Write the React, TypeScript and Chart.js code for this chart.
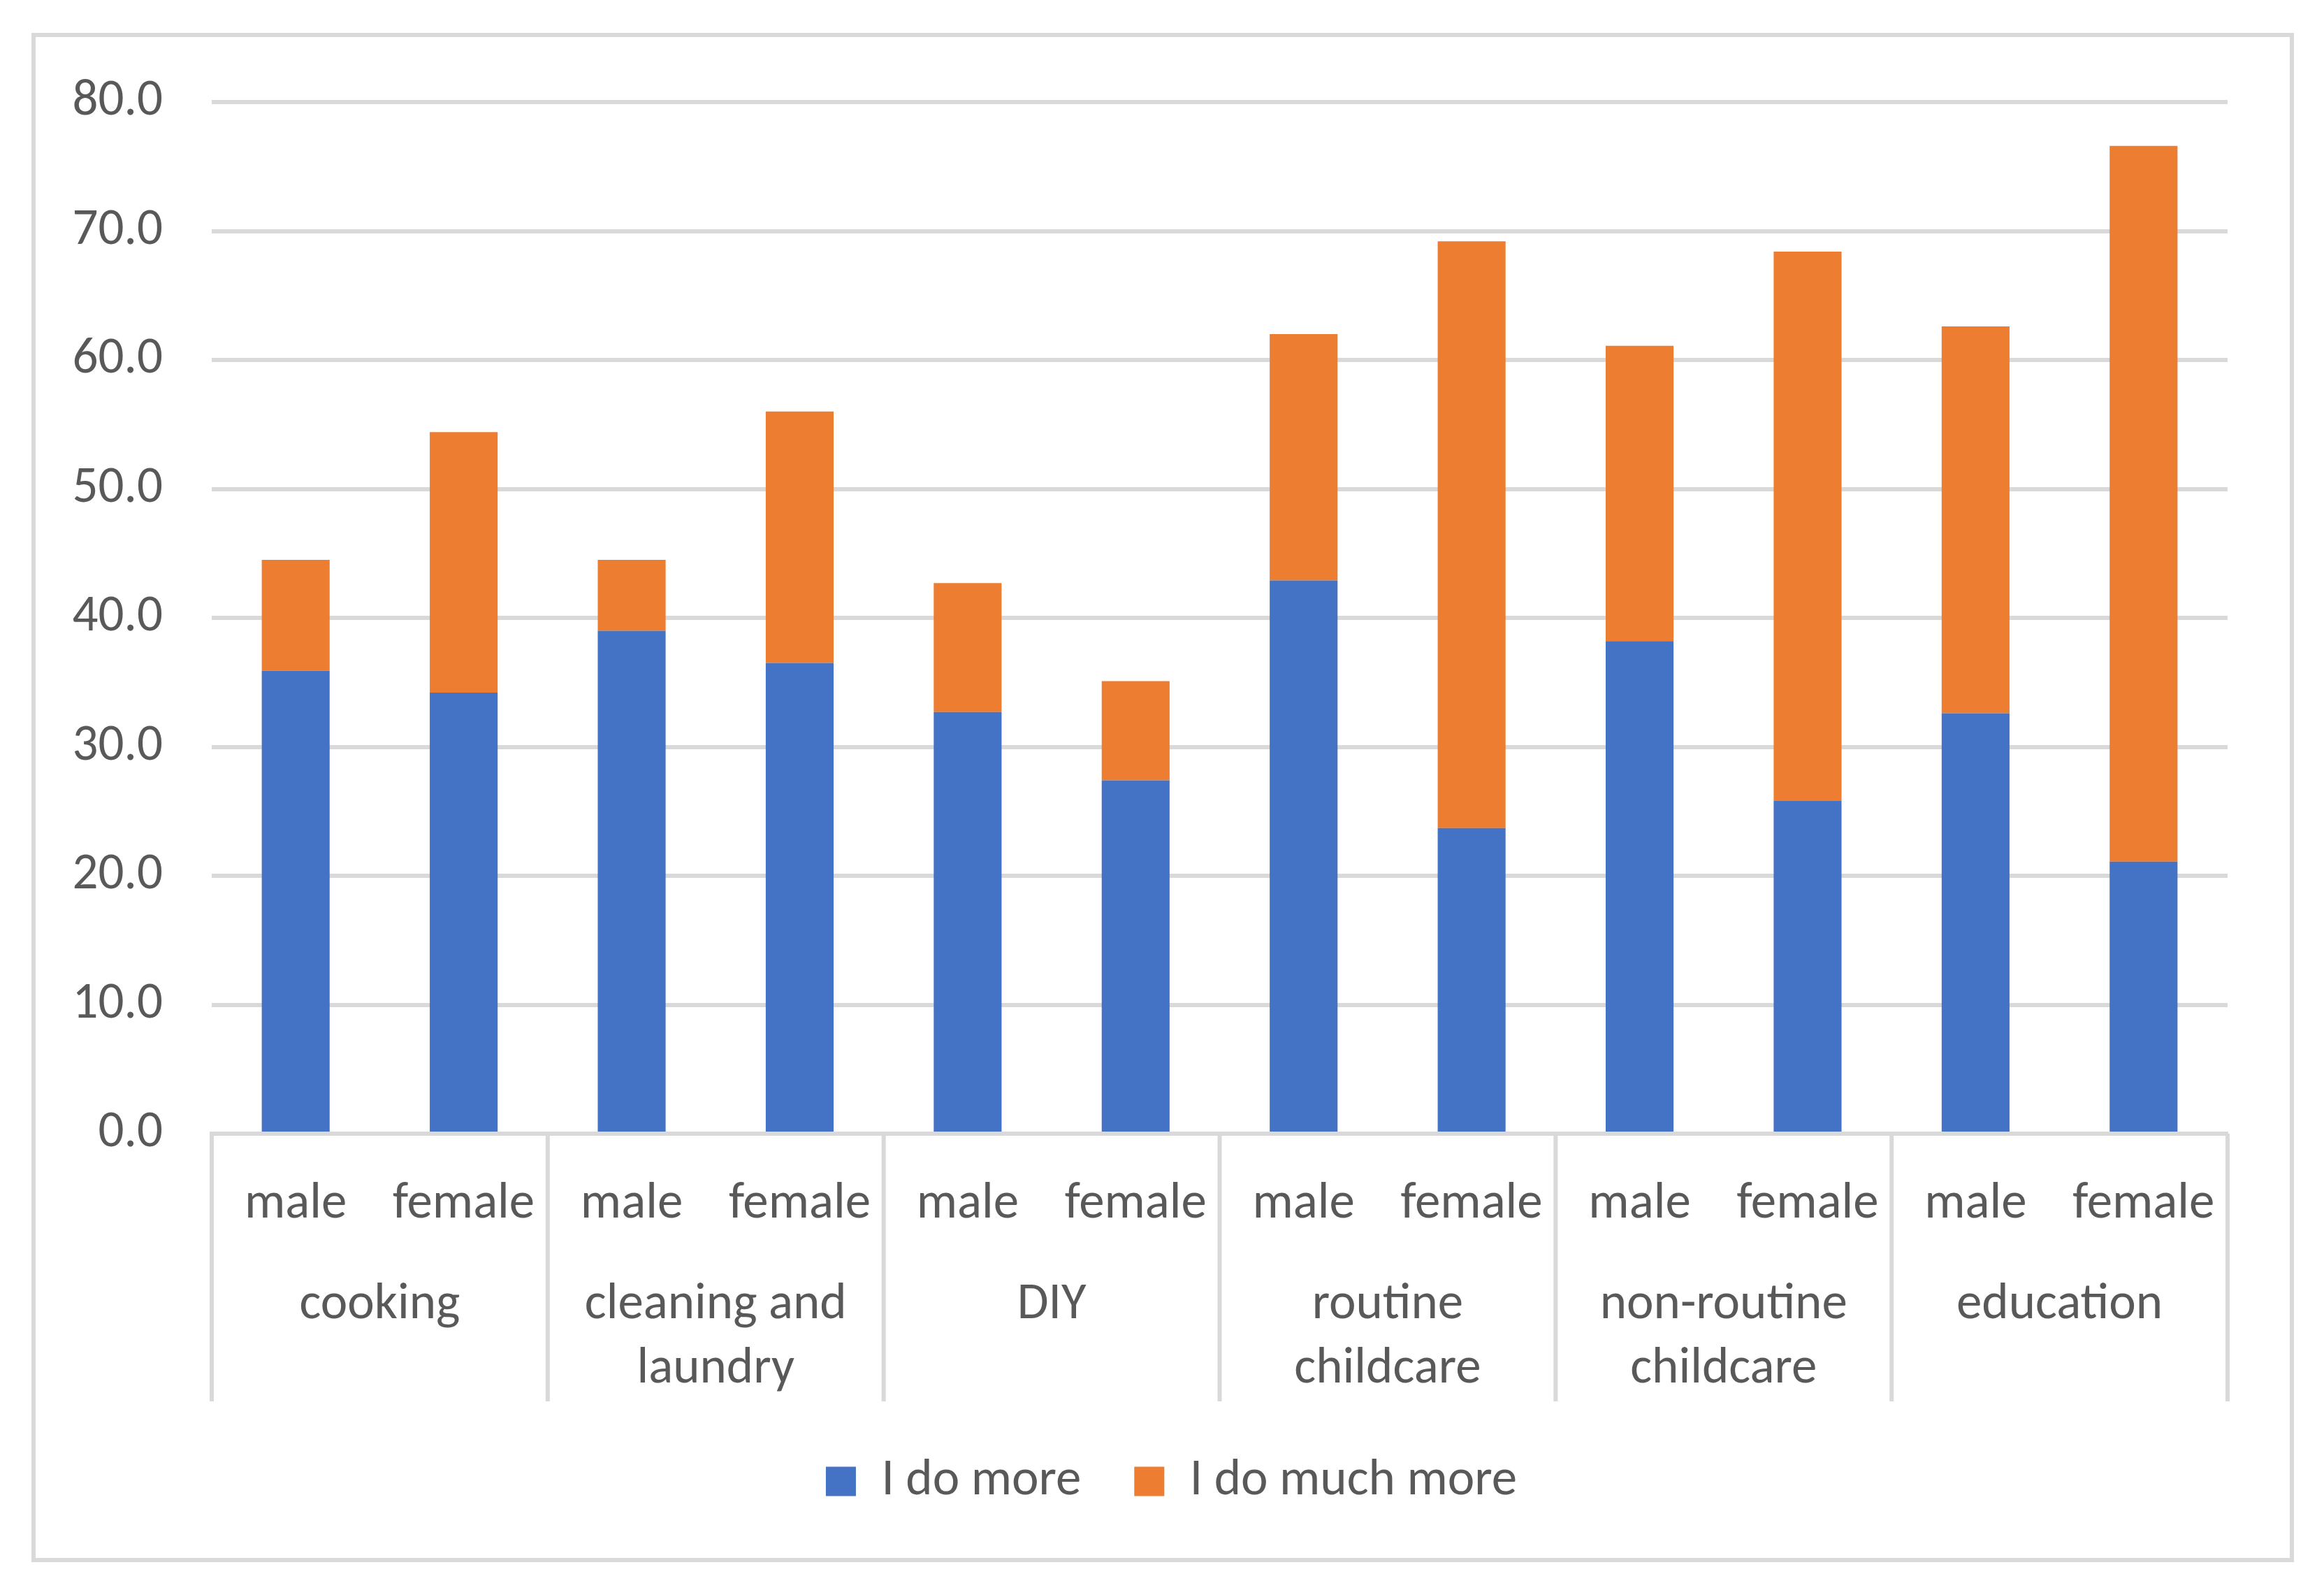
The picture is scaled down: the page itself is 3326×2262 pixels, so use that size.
import React, { useEffect, useRef } from "react";
import { Chart, registerables } from "chart.js";

Chart.register(...registerables);

const subLabels = ["male", "female", "male", "female", "male", "female", "male", "female", "male", "female", "male", "female"];
const groupLabels = [["cooking"], ["cleaning and", "laundry"], ["DIY"], ["routine", "childcare"], ["non-routine", "childcare"], ["education"]];
const doMore = [35.9, 34.2, 39.0, 36.5, 32.7, 27.4, 42.9, 23.7, 38.2, 25.8, 32.6, 21.1];
const doMuchMore = [8.6, 20.2, 5.5, 19.5, 10.0, 7.7, 19.1, 45.5, 22.9, 42.6, 30.0, 55.5];
const seriesNames = ["I do more", "I do much more"];
const yTicks = { min: 0, max: 80, step: 10 };

const FONT = "Carlito, Calibri, Lato, 'Noto Sans', sans-serif";
const TEXT = "#595959";
const GRID = "#D9D9D9";

const separatorPlugin = {
  id: "groupSeparators",
  afterLayout(chart: any) {
    const lg = chart.legend;
    if (lg) {
      lg.left += 57;
      lg.right += 57;
    }
  },
  afterDraw(chart: any) {
    const x2 = chart.scales.x2;
    const area = chart.chartArea;
    if (!x2) return;
    const w = x2.getPixelForValue(1) - x2.getPixelForValue(0);
    const start = x2.getPixelForValue(0) - w / 2;
    const ctx = chart.ctx;
    ctx.save();
    ctx.strokeStyle = GRID;
    ctx.lineWidth = 6;
    for (let g = 0; g <= groupLabels.length; g++) {
      const px = start + g * w;
      ctx.beginPath();
      ctx.moveTo(px, area.bottom);
      ctx.lineTo(px, x2.bottom - 2);
      ctx.stroke();
    }
    ctx.restore();
  },
};

export default function App() {
  const ref = useRef<HTMLCanvasElement | null>(null);

  useEffect(() => {
    if (!ref.current) return;
    const chart = new Chart(ref.current, {
      type: "bar",
      data: {
        labels: subLabels,
        datasets: [
          { label: seriesNames[0], data: doMore, backgroundColor: "#4472C4", xAxisID: "x", yAxisID: "y" },
          { label: seriesNames[1], data: doMuchMore, backgroundColor: "#ED7D31", xAxisID: "x", yAxisID: "y" },
        ],
      },
      options: {
        animation: false,
        responsive: true,
        maintainAspectRatio: false,
        layout: { padding: { top: 93, right: 89, bottom: 63, left: 0 } },
        datasets: { bar: { barPercentage: 0.404, categoryPercentage: 1.0 } },
        plugins: {
          legend: {
            position: "bottom",
            labels: {
              font: { family: FONT, size: 73 },
              color: TEXT,
              boxWidth: 43,
              boxHeight: 42,
              padding: 76,
            },
          },
          tooltip: { enabled: false },
        },
        scales: {
          x: {
            stacked: true,
            position: "bottom",
            grid: { display: false, drawTicks: false },
            border: { display: true, color: GRID, width: 6 },
            afterFit(scale: any) {
              scale.height = 146;
            },
            ticks: {
              font: { family: FONT, size: 73, lineHeight: 1.2 },
              color: TEXT,
              padding: 58,
              autoSkip: false,
              maxRotation: 0,
              minRotation: 0,
            },
          },
          x2: {
            type: "category",
            labels: groupLabels as any,
            position: "bottom",
            offset: true,
            grid: { display: false, drawTicks: false },
            border: { display: false },
            afterFit(scale: any) {
              scale.height = 239;
            },
            ticks: {
              font: { family: FONT, size: 73, lineHeight: 1.27 },
              color: TEXT,
              padding: 53,
              autoSkip: false,
              maxRotation: 0,
              minRotation: 0,
            },
          },
          y: {
            stacked: true,
            min: yTicks.min,
            max: yTicks.max,
            grid: { color: GRID, lineWidth: 6, drawTicks: true, tickLength: 70, tickColor: "rgba(0,0,0,0)" },
            border: { display: false },
            afterFit(scale: any) {
              scale.width = 252;
            },
            ticks: {
              stepSize: yTicks.step,
              font: { family: FONT, size: 73 },
              color: TEXT,
              padding: 0,
              callback: (v: any) => Number(v).toFixed(1),
            },
          },
        },
      },
      plugins: [separatorPlugin],
    });
    return () => chart.destroy();
  }, []);

  return (
    <div style={{ position: "relative", width: 3310, height: 2246 }}>
      <div
        style={{
          position: "absolute",
          left: 37,
          top: 39,
          width: 3238,
          height: 2188,
          border: "6px solid #D9D9D9",
          boxSizing: "border-box",
          background: "#fff",
        }}
      >
        <div style={{ position: "relative", width: 3226, height: 2176 }}>
          <canvas ref={ref} />
        </div>
      </div>
    </div>
  );
}
